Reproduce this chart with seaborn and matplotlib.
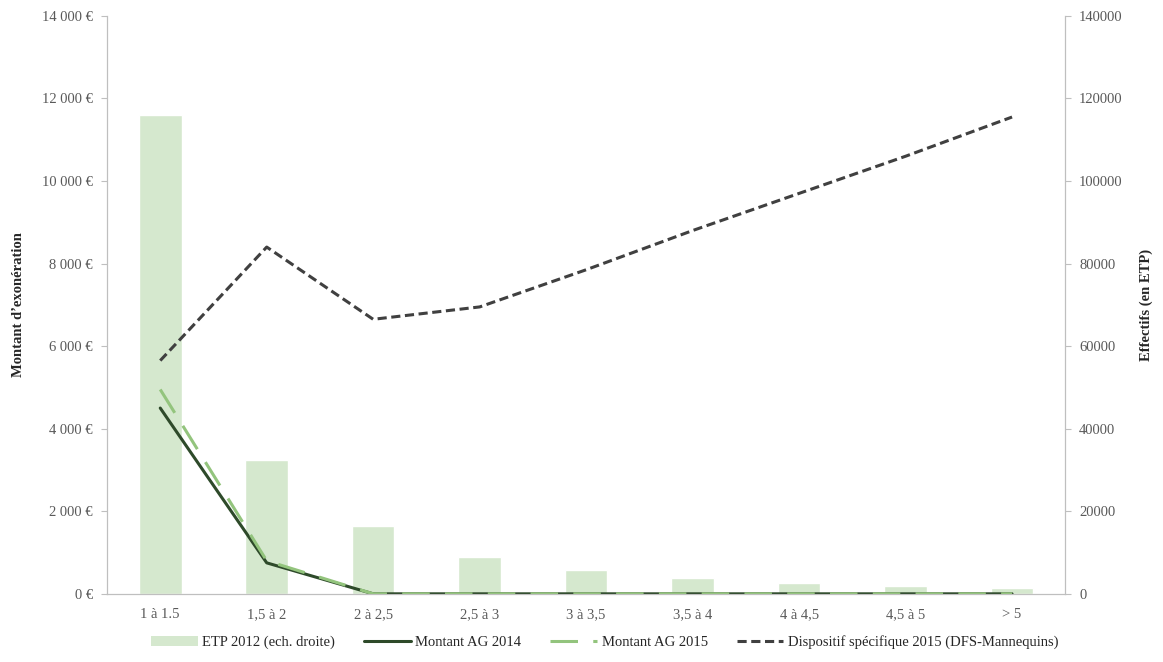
import numpy as np
import pandas as pd
import matplotlib
matplotlib.use('Agg')
import matplotlib.pyplot as plt
import seaborn as sns
from matplotlib.ticker import FuncFormatter, MultipleLocator
from matplotlib.lines import Line2D
from matplotlib.patches import Patch


categories = ['1 à 1.5', '1,5 à 2', '2 à 2,5', '2,5 à 3', '3 à 3,5', '3,5 à 4', '4 à 4,5', '4,5 à 5', '> 5']
etp_2012 = [116000, 32300, 16500, 9000, 5800, 3900, 2700, 1900, 1450]
ag_2014 = [4500, 750, 0, 0, 0, 0, 0, 0, 0]
ag_2015 = [4950, 800, 0, 0, 0, 0, 0, 0, 0]
dfs_2015 = [5650, 8400, 6650, 6950, 7850, 8800, 9700, 10600, 11550]

df = pd.DataFrame({'cat': categories, 'pos': np.arange(len(categories)),
                   'etp': etp_2012, 'ag14': ag_2014, 'ag15': ag_2015, 'dfs': dfs_2015})

sns.set_style('white')
plt.rcParams['font.family'] = ['Liberation Serif', 'DejaVu Serif']

c_bar = '#d5e8ce'
c_ag14 = '#2e4a2a'
c_ag15 = '#93c47d'
c_dfs = '#404040'
c_txt = '#595959'
c_axis = '#bfbfbf'

fig = plt.figure(figsize=(11.63, 6.62), dpi=100)
ax = fig.add_axes([0.092, 0.103, 0.824, 0.873])
ax2 = ax.twinx()

# bars on the right axis, behind the lines
sns.barplot(data=df, x='cat', y='etp', color=c_bar, width=0.4, saturation=1, ax=ax2)
ax.set_zorder(ax2.get_zorder() + 1)
ax.patch.set_visible(False)

sns.lineplot(data=df, x='pos', y='ag14', color=c_ag14, lw=2.2, ax=ax)
sns.lineplot(data=df, x='pos', y='ag15', color=c_ag15, lw=2.2, ax=ax)
ax.lines[-1].set_dashes([9, 5])
sns.lineplot(data=df, x='pos', y='dfs', color=c_dfs, lw=2.2, ax=ax)
ax.lines[-1].set_dashes([3, 1.5])

ax.set_xlim(-0.5, len(categories) - 0.5)
ax.set_ylim(0, 14000)
ax2.set_ylim(0, 140000)
ax.yaxis.set_major_locator(MultipleLocator(2000))
ax2.yaxis.set_major_locator(MultipleLocator(20000))
ax.yaxis.set_major_formatter(FuncFormatter(lambda v, p: f"{v:,.0f}".replace(',', ' ') + ' €'))
ax2.yaxis.set_major_formatter(FuncFormatter(lambda v, p: f"{v:.0f}"))

ax.set_xticks(np.arange(len(categories)))
ax.set_xticklabels(categories)
ax.set_xticks(np.arange(len(categories) + 1) - 0.5, minor=True)
ax.set_xlabel('')
ax2.set_xlabel('')

for a in (ax, ax2):
    for s in a.spines.values():
        s.set_color(c_axis)
        s.set_linewidth(0.8)
    a.spines['top'].set_visible(False)
    a.tick_params(axis='both', colors=c_axis, labelcolor=c_txt, labelsize=10.5, length=4, width=0.8)

ax.tick_params(axis='x', which='major', length=0, pad=10)
ax.tick_params(axis='x', which='minor', length=4, color=c_axis)
ax.tick_params(axis='y', left=True, pad=6)
ax2.tick_params(axis='y', right=True, pad=6)

ax.set_ylabel('Montant d’exonération', fontsize=10.5, fontweight='bold', color='#262626', labelpad=12)
ax2.set_ylabel('Effectifs (en ETP)', fontsize=10.5, fontweight='bold', color='#262626', labelpad=12)

handles = [
    Patch(facecolor=c_bar, edgecolor='none'),
    Line2D([0], [0], color=c_ag14, lw=2.2),
    Line2D([0], [0], color=c_ag15, lw=2.2, dashes=[9, 5]),
    Line2D([0], [0], color=c_dfs, lw=2.2, dashes=[3, 1.5]),
]
labels = ['ETP 2012 (ech. droite)', 'Montant AG 2014', 'Montant AG 2015',
          'Dispositif spécifique 2015 (DFS-Mannequins)']
leg = fig.legend(handles, labels, loc='center', bbox_to_anchor=(0.52, 0.03), ncol=4,
                 frameon=False, fontsize=10.5, handlelength=3.2, handletextpad=0.3,
                 columnspacing=2.0)
for t in leg.get_texts():
    t.set_color('#262626')

fig.savefig('out.png', dpi=100)
